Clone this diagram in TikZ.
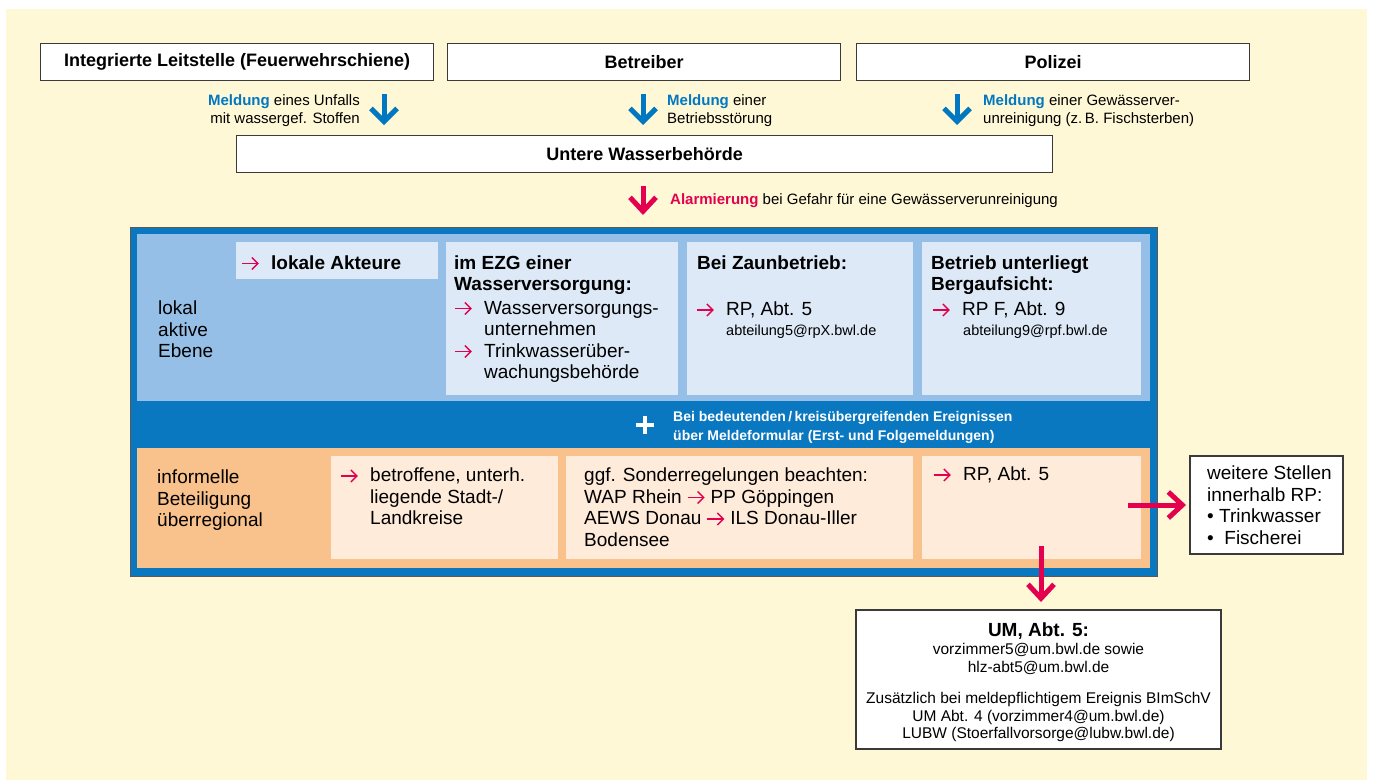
\documentclass[tikz,border=0pt]{standalone}
\usepackage{fontspec}
\setmainfont{Liberation Sans}
\usetikzlibrary{arrows.meta}
\definecolor{grund}{HTML}{FFF8D6}
\definecolor{meldeblau}{HTML}{0078C1}
\definecolor{rahmenblau}{HTML}{0A78C0}
\definecolor{hellblau}{HTML}{95BFE7}
\definecolor{blassblau}{HTML}{DDE9F7}
\definecolor{orangefeld}{HTML}{F9C18B}
\definecolor{pfirsich}{HTML}{FEEBDA}
\definecolor{alarmrot}{HTML}{E3004F}
\definecolor{kantengrau}{HTML}{3A3A3A}
\newcommand{\pfeil}{\tikz[baseline=0pt]\draw[alarmrot, line width=1.4pt, -{Straight Barb[length=6pt, width=12pt]}] (0pt,6pt) -- (17pt,6pt);}
\newcommand{\pf}{\makebox[30pt][l]{\pfeil}}
\newcommand{\ein}{\hspace*{30pt}}
\tikzset{
  kopfbox/.style={draw=kantengrau, line width=1.3pt, fill=white, anchor=north west,
    inner sep=0pt, minimum height=37pt, font=\bfseries\fontsize{18}{21}\selectfont},
  feld/.style={anchor=north west, inner sep=0pt, outer sep=0pt},
  fliess/.style={anchor=north west, inner sep=0pt, align=left, font=\fontsize{19}{21.5}\selectfont},
  notiz/.style={anchor=north west, inner sep=0pt, align=left, font=\fontsize{15}{18}\selectfont},
  mail/.style={anchor=north west, inner sep=0pt, font=\fontsize{14.5}{17}\selectfont},
  meldepfeil/.style={draw=meldeblau, line width=5pt, -{Straight Barb[length=13pt, width=26pt]}},
  alarmpfeil/.style={draw=alarmrot, line width=5pt, -{Straight Barb[length=14pt, width=26pt]}}
}
\begin{document}
\begin{tikzpicture}[x=1pt, y=-1pt]
\useasboundingbox (0,0) rectangle (1373,780);
\fill[grund] (6,9) rectangle (1367,780);
% Meldewege
\node[kopfbox, minimum width=393pt] (leitstelle) at (40,43) {Integrierte Leitstelle (Feuerwehrschiene)};
\node[kopfbox, minimum width=393pt] (betreiber) at (447,43) {Betreiber};
\node[kopfbox, minimum width=393pt] (polizei) at (856,43) {Polizei};
\node[kopfbox, minimum width=816pt] (uwb) at (236,135) {Untere Wasserbehörde};
\coordinate (m1) at (384,0);
\coordinate (m2) at (643,0);
\coordinate (m3) at (957,0);
\draw[meldepfeil, shorten <=13pt, shorten >=10pt] (leitstelle.south -| m1) -- (uwb.north -| m1);
\draw[meldepfeil, shorten <=13pt, shorten >=10pt] (betreiber.south -| m2) -- (uwb.north -| m2);
\draw[meldepfeil, shorten <=13pt, shorten >=10pt] (polizei.south -| m3) -- (uwb.north -| m3);
\node[notiz, anchor=north east, align=right] (meld1) at (360,94.5) {{\color{meldeblau}\bfseries Meldung} eines Unfalls\\mit wassergef. Stoffen};
\node[notiz] (meld2) at (667,94.5) {{\color{meldeblau}\bfseries Meldung} einer\\Betriebsstörung};
\node[notiz] (meld3) at (983,94.5) {{\color{meldeblau}\bfseries Meldung} einer Gewässerver-\\unreinigung (z.\,B. Fischsterben)};
% Rahmen
\node[feld, fill=rahmenblau, draw=black!65, line width=1pt, minimum width=1027pt, minimum height=349pt] (rahmen) at (130,227) {};
\draw[alarmpfeil, shorten <=13pt, shorten >=12pt] (uwb.south -| m2) -- (rahmen.north -| m2);
\node[notiz] (alarm) at (670,193.5) {{\color{alarmrot}\bfseries Alarmierung} bei Gefahr für eine Gewässerverunreinigung};
\node[feld, fill=hellblau, minimum width=1013pt, minimum height=167pt] (lokal) at (137,234) {};
\node[feld, fill=blassblau, minimum width=202pt, minimum height=37pt] (akteure) at (236,242) {};
\node[feld, fill=blassblau, minimum width=232pt, minimum height=153pt] (ezg) at (446,242) {};
\node[feld, fill=blassblau, minimum width=226pt, minimum height=153pt] (zaun) at (687,242) {};
\node[feld, fill=blassblau, minimum width=219pt, minimum height=153pt] (berg) at (922,242) {};
\node[fliess] (lokaltext) at (158,301) {lokal\\aktive\\Ebene};
\node[fliess] (akteuretext) at (241,255.5) {\pf\textbf{lokale Akteure}};
\node[fliess] (ezgtext) at (454,255.5) {\textbf{im EZG einer}\\\textbf{Wasserversorgung:}\\[2pt]\pf Wasserversorgungs-\\\ein unternehmen\\\pf Trinkwasserüber-\\\ein wachungsbehörde};
\node[fliess] (zauntext) at (697,255.5) {\textbf{Bei Zaunbetrieb:}};
\node[fliess] (zaunrp) at (696,302) {\pf RP, Abt. 5};
\node[mail] (zaunmail) at (726,324.6) {abteilung5@rpX.bwl.de};
\node[fliess] (bergtext) at (931,255.5) {\textbf{Betrieb unterliegt}\\\textbf{Bergaufsicht:}};
\node[fliess] (bergrp) at (932,302) {\pf RP F, Abt. 9};
\node[mail] (bergmail) at (963,324.6) {abteilung9@rpf.bwl.de};
\draw[white, line width=4.5pt] (636,425) -- (654,425) (645,416) -- (645,434);
\node[anchor=north west, inner sep=0pt, align=left, text=white, font=\bfseries\fontsize{14}{19}\selectfont] (formular) at (673,410.8) {Bei bedeutenden\,/\,kreisübergreifenden Ereignissen\\über Meldeformular (Erst- und Folgemeldungen)};
\node[feld, fill=orangefeld, minimum width=1013pt, minimum height=120pt] (regional) at (137,448) {};
\node[feld, fill=pfirsich, minimum width=227pt, minimum height=103pt] (kreise) at (331,456) {};
\node[feld, fill=pfirsich, minimum width=347pt, minimum height=103pt] (sonder) at (566,456) {};
\node[feld, fill=pfirsich, minimum width=219pt, minimum height=103pt] (rpbox) at (922,456) {};
\node[fliess] (regionaltext) at (157,470) {informelle\\Beteiligung\\überregional};
\node[fliess] (kreisetext) at (340,468) {\pf betroffene, unterh.\\\ein liegende Stadt-/\\\ein Landkreise};
\node[fliess] (sondertext) at (584,468) {ggf. Sonderregelungen beachten:\\WAP Rhein \pfeil\ PP Göppingen\\AEWS Donau \pfeil\ ILS Donau-Iller\\Bodensee};
\node[fliess] (rptext) at (933,467) {\pf RP, Abt. 5};
% weitere Empfaenger
\node[feld, draw=kantengrau, line width=1.3pt, fill=white, minimum width=153pt, minimum height=98pt] (weitere) at (1190,456) {};
\node[fliess] (weiteretext) at (1207,466) {weitere Stellen\\innerhalb RP:\\• Trinkwasser\\•\ \ Fischerei};
\node[feld, draw=kantengrau, line width=1.3pt, fill=white, minimum width=365pt, minimum height=139pt] (um) at (856,610) {};
\node[font=\bfseries\fontsize{19}{22}\selectfont, inner sep=0pt] (umtitel) at (1038.5,631) {UM, Abt. 5:};
\node[anchor=north, inner sep=0pt, align=center, font=\fontsize{15.5}{18}\selectfont] (ummail) at (1038.5,643.3) {vorzimmer5@um.bwl.de sowie\\hlz-abt5@um.bwl.de};
\node[anchor=north, inner sep=0pt, align=center, font=\fontsize{15.5}{17.5}\selectfont] (umzusatz) at (1038.5,692.3) {Zusätzlich bei meldepflichtigem Ereignis BImSchV\\UM Abt. 4 (vorzimmer4@um.bwl.de)\\LUBW (Stoerfallvorsorge@lubw.bwl.de)};
\coordinate (rq) at (1128,505);
\coordinate (rd) at (1041,546);
\draw[alarmpfeil, shorten >=4pt] (rq) -- (weitere.west);
\draw[alarmpfeil, shorten >=8pt] (rd) -- (rd |- um.north);
\end{tikzpicture}
\end{document}
